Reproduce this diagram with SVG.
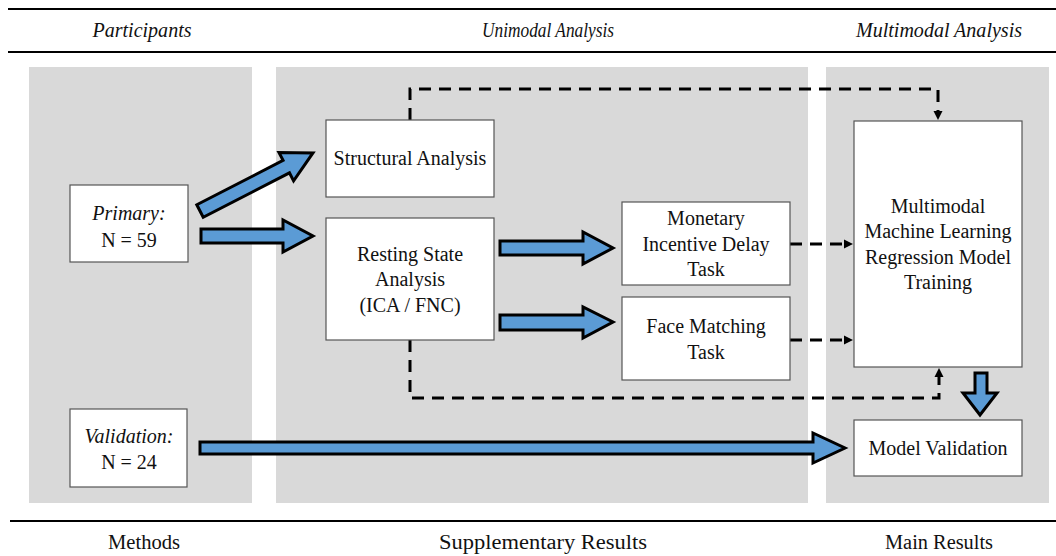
<svg xmlns="http://www.w3.org/2000/svg" width="1056" height="556" viewBox="0 0 1056 556">
<style>
  .panel { fill: #d9d9d9; }
  .rule { stroke: #000; stroke-width: 2; }
  .box { fill: #fff; stroke: #555; stroke-width: 1.2; }
  .t { font-family: "Liberation Serif", "Times New Roman", Times, serif; font-size: 20px; fill: #111; text-anchor: middle; }
  .hd { font-size: 20px; }
  .it { font-style: italic; }
  .blk { fill: #5b9bd5; stroke: #000; stroke-width: 3; stroke-linejoin: miter; }
  .dash { fill: none; stroke: #000; stroke-width: 3; stroke-dasharray: 12 8; }
</style>
<defs>
  <marker id="ah" markerUnits="userSpaceOnUse" markerWidth="10" markerHeight="10" refX="0" refY="5" orient="auto">
    <path d="M0,0.5 L9,5 L0,9.5 Z" fill="#000"/>
  </marker>
</defs>
<rect width="1056" height="556" fill="#fff"/>
<g id="panels">
  <rect class="panel" x="29" y="67" width="223" height="436"/>
  <rect class="panel" x="276" y="67" width="532" height="436"/>
  <rect class="panel" x="826" y="67" width="223" height="436"/>
</g>
<g id="rules">
  <line class="rule" x1="8" y1="9" x2="1056" y2="9"/>
  <line class="rule" x1="8" y1="52" x2="1056" y2="52" stroke-width="2.5"/>
  <line class="rule" x1="10" y1="521" x2="1056" y2="521"/>
</g>
<g id="headers">
  <text class="t hd it" x="142" y="37" textLength="99" lengthAdjust="spacingAndGlyphs">Participants</text>
  <text class="t hd it" x="548" y="37" textLength="132" lengthAdjust="spacingAndGlyphs">Unimodal Analysis</text>
  <text class="t hd it" x="939" y="37" textLength="166" lengthAdjust="spacingAndGlyphs">Multimodal Analysis</text>
  <text class="t hd" x="144" y="549" textLength="72" lengthAdjust="spacingAndGlyphs">Methods</text>
  <text class="t hd" x="543" y="549" textLength="208" lengthAdjust="spacingAndGlyphs">Supplementary Results</text>
  <text class="t hd" x="939" y="549" textLength="108" lengthAdjust="spacingAndGlyphs">Main Results</text>
</g>
<g id="connectors">
  <path class="dash" d="M410,120 V89 H938 V111" marker-end="url(#ah)"/>
  <path class="dash" d="M790,244 H844" marker-end="url(#ah)"/>
  <path class="dash" d="M790,340 H844" marker-end="url(#ah)"/>
  <path class="dash" d="M410,340 V398 H939 V377" marker-end="url(#ah)"/>
  <path class="blk" transform="translate(200,211) rotate(-27.2)" d="M0,-7 H97 V-16 L127,0 L97,16 V7 H0 Z"/>
  <path class="blk" d="M201,229 H283 V220 L313,236 L283,252 V243 H201 Z"/>
  <path class="blk" d="M500,241 H583 V232 L613,248 L583,264 V255 H500 Z"/>
  <path class="blk" d="M500,315 H583 V307 L613,322 L583,338 V330 H500 Z"/>
  <path class="blk" d="M200,442 H813 V433 L845,448 L813,463 V454 H200 Z"/>
  <path class="blk" d="M975,373 V393 H963 L980,415 L997,393 H987 V373 Z"/>
</g>
<g id="primary">
  <rect class="box" x="70" y="185" width="118" height="77"/>
  <text class="t it" x="129" y="220">Primary:</text>
  <text class="t" x="129" y="247">N = 59</text>
</g>
<g id="validation">
  <rect class="box" x="70" y="409" width="117" height="78"/>
  <text class="t it" x="129" y="443">Validation:</text>
  <text class="t" x="129" y="469">N = 24</text>
</g>
<g id="structural">
  <rect class="box" x="326" y="120" width="168" height="77"/>
  <text class="t" x="410" y="165">Structural Analysis</text>
</g>
<g id="resting">
  <rect class="box" x="326" y="218" width="168" height="122"/>
  <text class="t" x="410" y="261">Resting State</text>
  <text class="t" x="410" y="286">Analysis</text>
  <text class="t" x="410" y="312">(ICA / FNC)</text>
</g>
<g id="monetary">
  <rect class="box" x="622" y="202" width="168" height="83"/>
  <text class="t" x="706" y="225">Monetary</text>
  <text class="t" x="706" y="251">Incentive Delay</text>
  <text class="t" x="706" y="276">Task</text>
</g>
<g id="face">
  <rect class="box" x="622" y="297" width="168" height="83"/>
  <text class="t" x="706" y="333">Face Matching</text>
  <text class="t" x="706" y="359">Task</text>
</g>
<g id="multimodal">
  <rect class="box" x="854" y="121" width="168" height="246"/>
  <text class="t" x="938" y="213">Multimodal</text>
  <text class="t" x="938" y="238">Machine Learning</text>
  <text class="t" x="938" y="264">Regression Model</text>
  <text class="t" x="938" y="289">Training</text>
</g>
<g id="modelvalidation">
  <rect class="box" x="854" y="420" width="168" height="56"/>
  <text class="t" x="938" y="455">Model Validation</text>
</g>
</svg>
